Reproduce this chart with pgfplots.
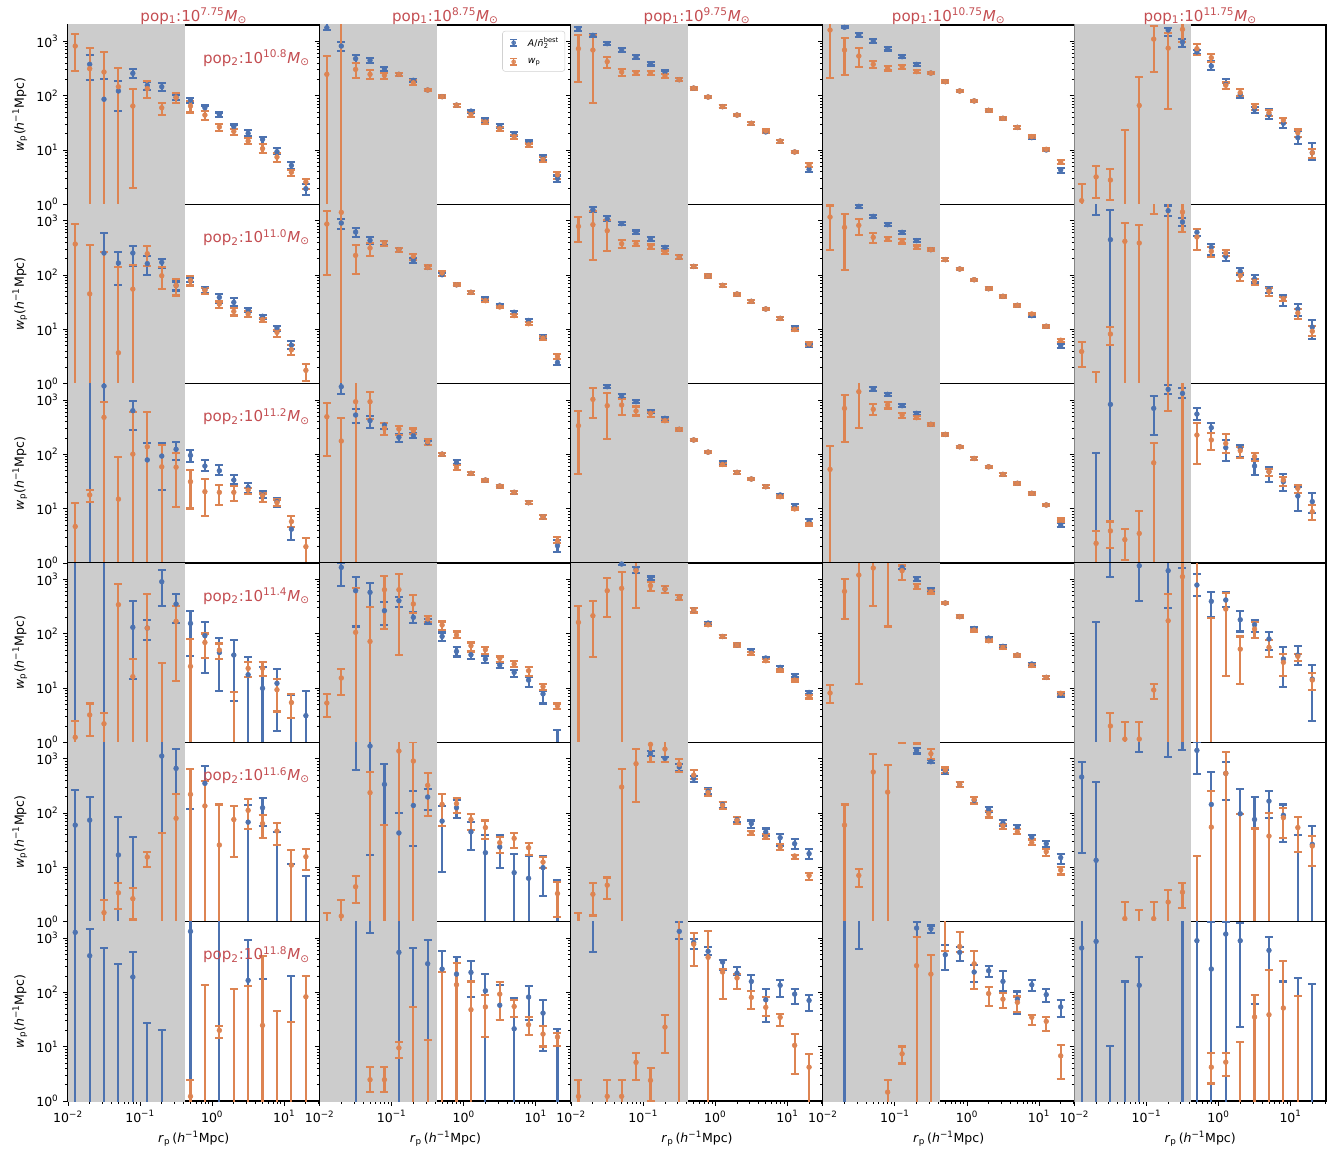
\documentclass[border=0pt]{standalone}
\usepackage{fontspec}
\setmainfont{DejaVu Sans}
\usepackage{pgfplots}
\pgfplotsset{compat=1.18}
\usepackage{pgfplotstable}
\usepgfplotslibrary{groupplots}

\definecolor{cblue}{RGB}{76,114,176}
\definecolor{corange}{RGB}{221,132,82}
\definecolor{cred}{RGB}{196,78,82}
\definecolor{cshade}{RGB}{204,204,204}

\newcommand{\tfont}{\fontsize{9.4}{11}\selectfont}
\newcommand{\bfont}{\fontsize{11.3}{13}\selectfont}
\newcommand{\Msun}{\textit{M}\textsubscript{⊙}}

\pgfplotsset{
  panel/.style={width=188.7pt, height=134.5pt, scale only axis,
    xmode=log, ymode=log, xmin=0.01, xmax=31, ymin=1, ymax=2000,
    xtick={0.01,0.1,1,10}, ytick={1,10,100,1000},
    minor xtick={0.02,0.03,0.04,0.05,0.06,0.07,0.08,0.09,0.2,0.3,0.4,0.5,0.6,0.7,0.8,0.9,2,3,4,5,6,7,8,9,20,30},
    minor ytick={2,3,4,5,6,7,8,9,20,30,40,50,60,70,80,90,200,300,400,500,600,700,800,900},
    xticklabels={}, yticklabels={},
    tick align=outside, tick pos=left,
    major tick length=3.6pt, minor tick length=2.1pt,
    tick style={black, line width=0.6pt},
    axis line style={line width=1.2pt},
    axis background/.style={fill=white},
    tick label style={font=\tfont}, label style={font=\tfont},
    title style={font=\bfont, text=cred, yshift=-9pt},
    clip=true},
  leftcol/.style={yticklabels={10\textsuperscript{0},10\textsuperscript{1},10\textsuperscript{2},10\textsuperscript{3}},
    ylabel={\textit{w}\textsubscript{p}(\textit{h}\textsuperscript{−1}Mpc)}},
  botrow/.style={xticklabels={10\textsuperscript{−2},10\textsuperscript{−1},10\textsuperscript{0},10\textsuperscript{1}},
    xlabel={\textit{r}\textsubscript{p}\,(\textit{h}\textsuperscript{−1}Mpc)}},
  bser/.style={only marks, mark=*, mark size=1.8pt, color=cblue,
    mark options={fill=cblue, draw=cblue},
    error bars/y dir=both, error bars/y explicit,
    error bars/draw error bar/.code 2 args={\draw[cblue, line width=1.6pt] ##1 -- ##2 ++(-3pt,0pt) -- ++(6pt,0pt);},
    legend image code/.code={\path (0cm,0cm) (0.5cm,0cm); \draw[cblue, line width=1.2pt] (0.2cm,-0.085cm) -- (0.2cm,0.085cm) (0.11cm,-0.085cm) -- (0.29cm,-0.085cm) (0.11cm,0.085cm) -- (0.29cm,0.085cm); \fill[cblue] (0.2cm,0cm) circle (1.5pt);}},
  oser/.style={only marks, mark=*, mark size=1.8pt, color=corange,
    mark options={fill=corange, draw=corange},
    error bars/y dir=both, error bars/y explicit,
    error bars/draw error bar/.code 2 args={\draw[corange, line width=1.6pt] ##1 -- ##2 ++(-3pt,0pt) -- ++(6pt,0pt);},
    legend image code/.code={\path (0cm,0cm) (0.5cm,0cm); \draw[corange, line width=1.2pt] (0.2cm,-0.085cm) -- (0.2cm,0.085cm) (0.11cm,-0.085cm) -- (0.29cm,-0.085cm) (0.11cm,0.085cm) -- (0.29cm,0.085cm); \fill[corange] (0.2cm,0cm) circle (1.5pt);}},
}

\newcommand{\drawpanel}[1]{%
  \addplot[fill=cshade, draw=none, forget plot] coordinates {(0.01,0.5) (0.42,0.5) (0.42,3000) (0.01,3000)} -- cycle;
  \addplot[bser] table[x=x, y=by, y error plus expr=\thisrow{bhi}-\thisrow{by}, y error minus expr=\thisrow{by}-\thisrow{blo}] {#1};
  \addplot[oser] table[x=x, y=oy, y error plus expr=\thisrow{ohi}-\thisrow{oy}, y error minus expr=\thisrow{oy}-\thisrow{olo}] {#1};
}
\newcommand{\rowlab}[1]{\node[anchor=east, text=cred, font=\bfont, inner sep=0pt] at (rel axis cs:0.962,0.815) {pop\textsubscript{2}:10\textsuperscript{#1}\Msun};}

% ---------------- data: x, blue (value, lower, upper), orange (value, lower, upper)
\pgfplotstableread{
x by blo bhi oy olo ohi
0.0126 0.5 0.4 0.6 820 284 1384
0.0200 378 194 552 314 0.1 743
0.0316 86 0.1 206 273 0.1 645
0.0501 122 51.5 186 146 0.1 323
0.0794 258 208 305 64.5 1.97 131
0.126 155 128 180 135 92 186
0.200 146 122 173 60 44 74
0.316 94 82 105 92 72 110
0.501 83 72 90 64.5 49 80
0.794 60 53 66 44 36 52
1.26 45 41 49 26.5 22.5 30
2.00 27 24.5 29.5 22 18.6 24.7
3.16 20.3 18 23 14.6 12.7 16.9
5.01 15.7 13.1 17.6 10.6 8.9 12.7
7.94 9.3 8.3 10.7 7.4 6.0 8.7
12.6 5.2 4.4 6.0 3.9 3.3 4.3
20.0 1.94 1.47 2.33 2.58 1.9 2.97
}\tAA
\pgfplotstableread{
x by blo bhi oy olo ohi
0.0126 1780 1617 2500 247 0.1 537
0.0200 820 664 972 0.6 0.1 3000
0.0316 480 405 552 305 214 405
0.0501 447 405 493 247 200 293
0.0794 314 280 342 237 206 265
0.126 247 228 265 247 228 265
0.200 192 179 205 173 155 192
0.316 127 120 134 127 120 134
0.501 96 91 101 96 91 101
0.794 67 63 71 67 63 71
1.26 52 49 55 45 40 49.7
2.00 35.6 33 38 32.8 30 35
3.16 27.7 25.7 29.7 24.7 22.5 26.5
5.01 20 18.5 21.5 17.6 16.2 19
7.94 14 13 15 12.4 11.3 13.2
12.6 7.2 6.5 8.0 6.7 6.1 7.4
20.0 3.0 2.6 3.4 3.5 2.97 3.9
}\tAB
\pgfplotstableread{
x by blo bhi oy olo ohi
0.0126 1711 1550 1862 733 178 1308
0.0200 1290 1200 1380 692 72 1290
0.0316 906 845 985 423 328 515
0.0501 693 640 750 273 230 305
0.0794 515 465 560 265 236 285
0.126 388 360 420 265 244 288
0.200 273 255 290 230 212 250
0.316 197 185 210 197 185 210
0.501 138 130 146 138 130 146
0.794 94.5 89 100 94.5 89 100
1.26 62.8 59 67 62.8 59 67
2.00 44 41.5 46.7 44 41.5 46.7
3.16 31 29 33 31 29 33
5.01 21.5 20.2 22.8 22.4 21 23.8
7.94 14.6 13.7 15.5 14.6 13.7 15.5
12.6 9.2 8.7 9.7 9.2 8.7 9.7
20.0 4.4 4.0 4.85 5.3 4.85 5.8
}\tAC
\pgfplotstableread{
x by blo bhi oy olo ohi
0.0126 3000 2500 3500 1617 211 2300
0.0200 1811 1750 1900 692 237 1168
0.0316 1308 1220 1400 537 332 765
0.0501 1015 940 1090 377 328 434
0.0794 733 680 790 318 290 350
0.126 522 485 560 342 312 370
0.200 377 355 400 277 260 296
0.316 261 248 275 261 248 275
0.501 181 172 190 181 172 190
0.794 122 116 128 122 116 128
1.26 80 76 84 80 76 84
2.00 53.7 51 56.4 53.7 51 56.4
3.16 38.3 36.4 40.2 38.3 36.4 40.2
5.01 26.1 24.8 27.4 26.1 24.8 27.4
7.94 16.9 16.0 17.8 17.6 16.7 18.5
12.6 10.0 9.5 10.5 10.3 9.8 10.8
20.0 4.3 3.8 4.7 6.0 5.5 6.5
}\tAD
\pgfplotstableread{
x by blo bhi oy olo ohi
0.0126 0.5 0.4 0.6 1.17 0.1 2.4
0.0200 0.5 0.4 0.6 3.2 1.29 5.1
0.0316 0.5 0.4 0.6 2.8 1.2 4.4
0.0501 0.5 0.4 0.6 0.6 0.1 23.4
0.0794 0.5 0.4 0.6 66 0.1 221
0.126 3000 2500 3500 1100 273 1900
0.200 1617 1254 1780 750 56 1445
0.316 972 798 1120 1663 972 2200
0.501 637 575 700 733 552 906
0.794 352 297 434 500 418 590
1.26 162 135 200 155 131 175
2.00 106 91 131 114 99 135
3.16 56 48.5 62 62.8 53.6 71
5.01 45 37.7 56 48.7 42 53.6
7.94 31 25 39.4 35.7 31 39.4
12.6 16.9 12.7 22.4 20.8 17.6 23.9
20.0 8.9 6.5 13.3 8.9 7.2 10.6
}\tAE
\pgfplotstableread{
x by blo bhi oy olo ohi
0.0126 0.5 0.4 0.6 372 0.1 868
0.0200 0.5 0.4 0.6 45 0.1 362
0.0316 254 0.1 593 0.6 0.1 261
0.0501 166 66 261 3.7 0.1 138
0.0794 254 144 337 55 0.1 155
0.126 162 101 221 247 144 337
0.200 171 134 200 97 55 138
0.316 64 52 76 64 42 86
0.501 82 74 90 79 64 95
0.794 54 47 60 52 45 57
1.26 38.8 31 45 29.3 24.6 32.6
2.00 31.4 27.3 37.7 21.4 18 24.6
3.16 23 20.6 24.6 19.2 16.9 21.4
5.01 17.4 15.5 18.6 15.1 13.5 16.1
7.94 10.6 9.5 11.7 8.8 7.2 9.8
12.6 5.1 4.4 6.0 4.2 3.4 5.1
20.0 0.5 0.4 0.6 1.76 1.1 2.33
}\tBA
\pgfplotstableread{
x by blo bhi oy olo ohi
0.0126 0.5 0.4 0.6 868 101 1485
0.0200 906 703 1074 1423 0.1 3000
0.0316 618 500 733 230 106 362
0.0501 434 380 493 314 227 388
0.0794 388 350 420 388 340 430
0.126 293 270 315 293 270 315
0.200 186 167 205 221 191 245
0.316 138 128 150 138 128 150
0.501 101 95 107 109 96 119
0.794 66 62 70 66 62 70
1.26 48 45 51 48 45 51
2.00 36.7 34.5 39 33.7 31.7 35.7
3.16 28 26.3 29.7 25.8 24.3 27.3
5.01 20.6 19.4 21.8 17.9 16.8 19
7.94 14.6 13.7 15.5 12.7 11.9 13.5
12.6 7.2 6.6 7.8 6.9 6.4 7.4
20.0 2.47 2.2 2.8 3.2 2.8 3.5
}\tBB
\pgfplotstableread{
x by blo bhi oy olo ohi
0.0126 0.5 0.4 0.6 787 399 1168
0.0200 1593 1450 1780 844 192 1485
0.0316 1088 1000 1200 654 280 1014
0.0501 880 820 950 377 314 434
0.0794 610 565 660 377 340 420
0.126 460 425 495 337 305 365
0.200 323 300 345 261 240 283
0.316 214 200 230 214 200 230
0.501 144 136 152 144 136 152
0.794 96 90 102 96 90 102
1.26 64.5 61 68 64.5 61 68
2.00 44.7 42 47.4 44.7 42 47.4
3.16 32.8 31 34.8 32.8 31 34.8
5.01 23.7 22.3 25.1 23.7 22.3 25.1
7.94 15.9 15 16.9 15.9 15 16.9
12.6 10.6 9.9 11.3 9.9 9.3 10.5
20.0 5.1 4.7 5.5 5.4 5.0 5.8
}\tBC
\pgfplotstableread{
x by blo bhi oy olo ohi
0.0126 3000 2500 3500 1168 284 1900
0.0200 3000 2500 3500 754 122 1345
0.0316 1836 1720 1950 820 552 1088
0.0501 1202 1120 1290 493 388 593
0.0794 844 790 910 460 420 505
0.126 610 570 650 417 380 455
0.200 429 400 460 328 305 350
0.316 293 278 308 293 278 308
0.501 192 182 202 192 182 202
0.794 129 122 136 129 122 136
1.26 82 78 86 82 78 86
2.00 56 53 59 56 53 59
3.16 40.5 38.5 42.5 40.5 38.5 42.5
5.01 27.7 26.3 29.1 27.7 26.3 29.1
7.94 17.9 17 18.8 19.2 18.2 20.2
12.6 11.4 10.8 12 11.4 10.8 12
20.0 5.0 4.6 5.4 6.3 5.9 6.7
}\tBD
\pgfplotstableread{
x by blo bhi oy olo ohi
0.0126 0.5 0.4 0.6 3.9 2.0 5.8
0.0200 2500 1290 3500 0.6 0.1 1.62
0.0316 447 0.1 1593 8.2 5.2 10.9
0.0501 0.5 0.4 0.6 417 0.1 906
0.0794 0.5 0.4 0.6 388 0.1 844
0.126 0.5 0.4 0.6 2500 1345 4000
0.200 1528 1237 1900 2200 0.1 4000
0.316 945 809 1120 1445 610 2500
0.501 610 520 700 500 293 703
0.794 323 237 377 273 214 328
1.26 221 180 250 254 220 290
2.00 117 101 135 97 78 108
3.16 84 73 101 76 66 84
5.01 54 47 60 50 40.5 57.5
7.94 37.7 27 43 36.7 33 40
12.6 23.7 17.9 29.7 20 15.7 23.7
20.0 11 6.6 14.6 9.2 7.6 11.4
}\tBE
\pgfplotstableread{
x by blo bhi oy olo ohi
0.0126 0.5 0.4 0.6 4.7 0.1 12.9
0.0200 3000 0.1 5000 17.9 13.5 22
0.0316 1810 0.1 3000 480 0.1 931
0.0501 0.5 0.4 0.6 15 0.1 91
0.0794 637 280 972 101 0.1 610
0.126 79 0.1 164 138 0.1 610
0.200 93 22 164 59 0.1 149
0.316 124 79 171 58 10.9 107
0.501 96 73 120 31.4 10.1 51.5
0.794 61 50 79 20.6 7.4 34.7
1.26 50 41.5 63 20 11.7 27.3
2.00 33.7 28 41.5 20 14 26
3.16 24.7 19 29.3 22 18.3 23.7
5.01 17.9 15.5 21 17.4 13.5 19
7.94 13.5 10.6 15.5 12.9 11.2 14.8
12.6 4.2 2.65 7.3 5.8 4.65 7.3
20.0 0.5 0.4 0.6 2.0 1.0 2.93
}\tCA
\pgfplotstableread{
x by blo bhi oy olo ohi
0.0126 0.5 0.4 0.6 493 93 893
0.0200 1760 1290 3000 176 0.1 473
0.0316 530 372 673 931 0.1 3000
0.0501 417 301 508 931 450 1423
0.0794 347 290 380 301 227 375
0.126 206 167 237 293 227 335
0.200 221 200 245 273 235 300
0.316 164 150 178 171 150 189
0.501 101 95 107 101 95 107
0.794 71 65 78 58 52 64
1.26 44.7 42 47.4 44.7 42 47.4
2.00 33.7 31.7 35.7 33.7 31.7 35.7
3.16 26.1 24.5 27.7 26.1 24.5 27.7
5.01 20 18.8 21.2 20 18.8 21.2
7.94 12.9 12.1 13.7 12.9 12.1 13.7
12.6 7.1 6.5 7.7 7.1 6.5 7.7
20.0 2.08 1.6 2.65 2.54 2.3 3.05
}\tCB
\pgfplotstableread{
x by blo bhi oy olo ohi
0.0126 0.5 0.4 0.6 337 43.5 637
0.0200 0.5 0.4 0.6 1029 473 1640
0.0316 1760 1650 1900 787 192 1365
0.0501 1185 1090 1290 809 530 1029
0.0794 931 870 1000 628 520 760
0.126 610 570 650 569 480 610
0.200 460 430 490 417 390 445
0.316 289 275 303 289 275 303
0.501 184 175 193 184 175 193
0.794 110 104 116 110 104 116
1.26 70 66 74 65 61 69
2.00 46.6 44 49.2 46.6 44 49.2
3.16 35.2 33.3 37.1 35.2 33.3 37.1
5.01 25.4 24 26.8 25.4 24 26.8
7.94 17.9 16.9 18.9 16.6 15.7 17.5
12.6 11.2 10.3 12.2 9.9 9.3 10.5
20.0 5.9 5.4 6.4 5.2 4.9 5.5
}\tCC
\pgfplotstableread{
x by blo bhi oy olo ohi
0.0126 0.5 0.4 0.6 53 0.1 142
0.0200 0.5 0.4 0.6 703 171 1237
0.0316 3000 2500 3500 1423 310 2200
0.0501 1593 1450 1750 673 530 832
0.0794 1272 1180 1370 809 700 925
0.126 787 740 840 530 475 575
0.200 569 540 600 473 445 500
0.316 357 340 375 357 340 375
0.501 233 222 244 233 222 244
0.794 138 131 145 138 131 145
1.26 84 80 88 84 80 88
2.00 59 56 62 59 56 62
3.16 42.8 40.7 44.9 42.8 40.7 44.9
5.01 29.3 27.8 30.8 29.3 27.8 30.8
7.94 19.2 18.2 20.2 19.2 18.2 20.2
12.6 11.7 11.1 12.3 11.7 11.1 12.3
20.0 5.0 4.6 5.4 6.2 5.8 6.6
}\tCD
\pgfplotstableread{
x by blo bhi oy olo ohi
0.0126 0.5 0.4 0.6 0.5 0.4 0.6
0.0200 0.6 0.1 104 2.3 0.1 3.94
0.0316 832 0.1 3000 3.9 1.9 5.8
0.0501 0.5 0.4 0.6 2.7 1.14 4.2
0.0794 0.5 0.4 0.6 3.5 0.1 9.2
0.126 703 227 1202 70 0.1 159
0.200 1571 1290 1900 2500 637 4000
0.316 1327 1104 1640 2500 0.1 5000
0.501 552 429 703 227 66 383
0.794 310 245 383 184 120 250
1.26 133 76 184 159 107 233
2.00 129 90 150 117 87 138
3.16 61 41.6 81 91 75 107
5.01 48 31.4 58 48 40 53
7.94 31.4 21.1 43.5 33.7 26 39
12.6 17.1 9.2 25.4 23.7 19.7 27
20.0 13.5 8.2 19.2 8.8 6.2 11.7
}\tCE
\pgfplotstableread{
x by blo bhi oy olo ohi
0.0126 3000 0.1 5000 1.24 0.1 2.5
0.0200 0.5 0.4 0.6 3.2 1.33 5.2
0.0316 3000 0.1 5000 2.2 0.1 3.5
0.0501 0.5 0.4 0.6 342 0.1 820
0.0794 131 14.6 405 16.2 0.1 34.2
0.126 127 76 178 127 0.1 537
0.200 906 328 1485 0.6 0.1 28.5
0.316 352 155 537 169 13.3 328
0.501 155 38.8 258 25 0.1 80
0.794 92 18.6 162 69 35.7 101
1.26 45 8.7 83 50 34.2 66
2.00 40.5 5.7 76 0.6 0.1 8.3
3.16 17.6 0.1 37.7 23 15.7 29.7
5.01 9.9 0.1 24 23.2 16.8 29.7
7.94 12.2 1.64 22.4 9.3 3.7 14.6
12.6 0.6 0.1 7.6 5.4 2.8 7.8
20.0 3.1 0.1 8.7 0.5 0.4 0.6
}\tDA
\pgfplotstableread{
x by blo bhi oy olo ohi
0.0126 0.5 0.4 0.6 5.3 2.9 7.8
0.0200 1663 743 2000 15.3 7.4 22.4
0.0316 618 136 1088 106 0.1 693
0.0501 577 314 844 72 0.1 314
0.0794 265 144 388 645 122 1136
0.126 405 314 480 645 40.5 1254
0.200 200 155 247 352 237 522
0.316 162 150 185 186 162 213
0.501 89 74 105 144 117 168
0.794 47.3 38 56 94.5 83 110
1.26 41 34 47 60 47 69
2.00 34.2 28.5 39 50.8 42 56
3.16 26.5 23.3 29.5 35.2 30.5 38
5.01 19.4 15.7 21.4 27.7 24 31
7.94 14 10.6 15.7 20.8 16.9 24
12.6 7.8 5.2 8.9 10.6 9.2 11.8
20.0 0.6 0.1 1.69 4.7 4.1 5.2
}\tDB
\pgfplotstableread{
x by blo bhi oy olo ohi
0.0126 0.5 0.4 0.6 162 0.1 318
0.0200 0.5 0.4 0.6 214 36.7 405
0.0316 0.5 0.4 0.6 618 200 1043
0.0501 1915 1850 2100 683 0.1 1345
0.0794 1550 1300 1700 1445 297 2200
0.126 1059 990 1130 765 618 906
0.200 664 570 750 664 570 750
0.316 466 420 510 466 420 510
0.501 273 245 300 273 245 300
0.794 157 148 166 146 137 155
1.26 89 84 94 89 84 94
2.00 62 58 66 62 58 66
3.16 48.7 46 51.4 43.5 41 46
5.01 35.7 33.7 37.7 31.8 30 33.6
7.94 24 22.6 25.4 21.4 20.1 22.7
12.6 16.9 15.9 17.9 14 13.2 14.8
20.0 8.3 7.7 8.9 6.9 6.4 7.4
}\tDC
\pgfplotstableread{
x by blo bhi oy olo ohi
0.0126 0.5 0.4 0.6 8.1 5.3 11.4
0.0200 0.5 0.4 0.6 601 186 1014
0.0316 0.5 0.4 0.6 1202 11.9 2200
0.0501 0.5 0.4 0.6 1617 328 2200
0.0794 0.5 0.4 0.6 2300 136 3000
0.126 1663 1550 1800 1445 972 1800
0.200 1014 930 1090 743 670 810
0.316 645 600 690 593 550 640
0.501 367 348 386 367 348 386
0.794 206 196 216 206 196 216
1.26 125 118 132 117 110 124
2.00 83 78 88 74 70 78
3.16 58.5 55 62 56 53 59
5.01 40.5 38 43 40.5 38 43
7.94 27.7 26 29.4 26 24.5 27.5
12.6 15.7 14.8 16.6 15.7 14.8 16.6
20.0 7.5 6.9 8.1 8.0 7.4 8.6
}\tDD
\pgfplotstableread{
x by blo bhi oy olo ohi
0.0126 0.5 0.4 0.6 0.5 0.4 0.6
0.0200 0.6 0.1 162 0.5 0.4 0.6
0.0316 2500 1120 3500 2.0 0.1 3.5
0.0501 0.5 0.4 0.6 1.15 0.1 2.4
0.0794 1785 405 2200 1.15 0.1 2.4
0.126 0.5 0.4 0.6 9.2 6.3 11.9
0.200 1445 297 2200 173 0.1 537
0.316 2300 1617 3000 1120 0.1 3000
0.501 787 487 1254 2500 0.1 5000
0.794 394 200 593 0.6 0.1 194
1.26 417 305 577 284 16.9 552
2.00 181 110 265 52 11.9 89
3.16 146 106 179 122 83 162
5.01 80 50 106 56 37.7 76
7.94 34.2 10.6 56 29.7 16.9 42.3
12.6 40.5 26.5 60 38.3 31.8 42.8
20.0 14.6 2.5 26.9 14 9.2 18.9
}\tDE
\pgfplotstableread{
x by blo bhi oy olo ohi
0.0126 60 0.1 261 0.5 0.4 0.6
0.0200 74 0.1 200 0.5 0.4 0.6
0.0316 3000 0.1 5000 1.47 0.1 2.47
0.0501 16.9 0.1 86 3.4 1.7 5.1
0.0794 0.6 0.1 36 2.65 1.1 4.2
0.126 0.5 0.4 0.6 15.5 10.1 19.4
0.200 1120 0.1 3000 0.6 0.1 42.3
0.316 664 0.1 1485 80 0.1 221
0.501 0.6 0.1 117 221 0.1 637
0.794 352 0.1 733 135 0.1 388
1.26 0.6 0.1 144 25.8 0.1 144
2.00 0.5 0.4 0.6 76 15.7 135
3.16 68 0.1 140 112 50 179
5.01 125 58 192 64 34.2 92
7.94 0.6 0.1 44.7 46.6 25.8 66
12.6 0.6 0.1 11.7 11 1.0 20.6
20.0 0.6 0.1 6.9 15.7 8.9 21.4
}\tEA
\pgfplotstableread{
x by blo bhi oy olo ohi
0.0126 0.5 0.4 0.6 0.6 0.1 1.42
0.0200 0.5 0.4 0.6 1.27 0.1 2.47
0.0316 2500 618 3500 4.4 2.2 6.9
0.0501 1711 16.6 2500 237 0.1 569
0.0794 337 0.1 787 0.6 0.1 60
0.126 43 0.1 100 1384 0.1 3000
0.200 138 24.7 254 906 0.1 2000
0.316 197 112 273 323 88 552
0.501 71 8.3 135 144 58 227
0.794 125 82 173 149 99 192
1.26 45 20.6 69 76 48.7 97
2.00 18.6 0.1 39.4 54 32.8 73
3.16 23.7 9.6 38.8 28.5 18.1 36.7
5.01 8.0 0.1 17.4 34.2 23 43.5
7.94 6.3 0.1 16.2 23 16.6 28.5
12.6 9.9 3.0 16.2 12.5 9.6 15.5
20.0 0.6 0.1 5.8 3.3 1.2 5.4
}\tEB
\pgfplotstableread{
x by blo bhi oy olo ohi
0.0126 0.5 0.4 0.6 0.6 0.1 1.42
0.0200 0.5 0.4 0.6 3.2 1.3 5.1
0.0316 0.5 0.4 0.6 4.7 2.65 6.5
0.0501 0.5 0.4 0.6 301 0.1 637
0.0794 0.5 0.4 0.6 809 159 1485
0.126 1254 1110 1400 1836 868 2100
0.200 1014 870 1090 1500 870 2200
0.316 703 601 787 787 577 972
0.501 434 377 480 500 417 610
0.794 254 227 284 237 206 273
1.26 144 125 160 138 120 160
2.00 76 67 85 73 64 85
3.16 64 54 73 43.5 39 47.5
5.01 44.7 37.7 52 36.7 33 40.5
7.94 35.2 24.7 41.5 23.7 20.6 26.5
12.6 27.3 22 32.8 16.2 14 17.1
20.0 17.9 14 22 7.1 5.8 8.0
}\tEC
\pgfplotstableread{
x by blo bhi oy olo ohi
0.0126 0.5 0.4 0.6 0.5 0.4 0.6
0.0200 0.5 0.4 0.6 60 0.1 144
0.0316 0.5 0.4 0.6 7.1 4.4 9.4
0.0501 0.5 0.4 0.6 569 0.1 1202
0.0794 0.5 0.4 0.6 243 0.1 754
0.126 0.5 0.4 0.6 2500 1950 3000
0.200 1423 1250 1560 2500 1900 3000
0.316 880 820 960 1237 972 1485
0.501 569 520 620 618 540 690
0.794 337 305 375 337 305 375
1.26 171 150 200 179 150 200
2.00 117 105 130 97 83 108
3.16 66 58 74 58 50 64
5.01 55 50 60 45 41 50
7.94 36.2 32.6 40 28.5 25.8 32.6
12.6 27.3 23.3 31 19.4 16 22
20.0 15.1 11.7 17.9 8.9 7.4 10.3
}\tED
\pgfplotstableread{
x by blo bhi oy olo ohi
0.0126 460 18.6 880 0.5 0.4 0.6
0.0200 13.5 0.1 372 0.5 0.4 0.6
0.0316 0.5 0.4 0.6 0.5 0.4 0.6
0.0501 0.5 0.4 0.6 1.14 0.1 2.3
0.0794 2500 1345 3500 0.6 0.1 1.62
0.126 0.5 0.4 0.6 1.14 0.1 2.3
0.200 2500 1088 3500 2.3 0.1 3.9
0.316 2500 1423 3500 3.5 1.8 5.1
0.501 1423 515 2000 0.6 0.1 16.2
0.794 144 0.1 569 55 0.1 254
1.26 537 171 880 537 0.1 1345
2.00 97 0.1 273 0.6 0.1 97
3.16 76 0.1 197 0.6 0.1 52
5.01 166 80 254 37.7 0.1 101
7.94 91 29.7 144 82 34.2 125
12.6 0.6 0.1 38.8 54 19.4 86
20.0 26.5 0.1 58 24.7 10.6 37.7
}\tEE
\pgfplotstableread{
x by blo bhi oy olo ohi
0.0126 1272 0.1 3000 0.5 0.4 0.6
0.0200 473 0.1 1485 0.5 0.4 0.6
0.0316 0.6 0.1 654 0.5 0.4 0.6
0.0501 0.6 0.1 337 0.5 0.4 0.6
0.0794 192 0.1 545 0.5 0.4 0.6
0.126 0.6 0.1 27.3 0.5 0.4 0.6
0.200 0.6 0.1 20.6 0.5 0.4 0.6
0.316 0.5 0.4 0.6 0.5 0.4 0.6
0.501 1327 0.1 3000 1.22 0.1 2.47
0.794 0.5 0.4 0.6 0.6 0.1 138
1.26 2500 0.1 5000 20 14.4 24.4
2.00 0.5 0.4 0.6 0.6 0.1 117
3.16 166 0.1 931 0.6 0.1 133
5.01 0.6 0.1 179 24.7 0.1 460
7.94 0.5 0.4 0.6 0.6 0.1 46
12.6 0.6 0.1 203 0.6 0.1 28
20.0 0.5 0.4 0.6 83 0.1 203
}\tFA
\pgfplotstableread{
x by blo bhi oy olo ohi
0.0126 0.5 0.4 0.6 0.5 0.4 0.6
0.0200 0.5 0.4 0.6 0.5 0.4 0.6
0.0316 2500 0.1 5000 0.5 0.4 0.6
0.0501 2500 1237 3500 2.47 1.46 4.2
0.0794 0.5 0.4 0.6 2.47 1.46 4.2
0.126 545 0.1 2500 9.5 6.2 12.2
0.200 0.6 0.1 654 0.6 0.1 54
0.316 337 0.1 931 0.6 0.1 13.5
0.501 269 0.1 569 0.6 0.1 233
0.794 217 0.1 441 138 0.1 347
1.26 233 82 372 48 0.1 159
2.00 107 0.1 217 54 14.9 91
3.16 58 31.4 138 93 31.4 153
5.01 21.4 0.1 79 55 34.7 73
7.94 82 31.4 129 25.4 16.2 34.7
12.6 41.6 8.4 73 17.1 10.1 23.7
20.0 0.6 0.1 21.4 15.1 10.4 17.9
}\tFB
\pgfplotstableread{
x by blo bhi oy olo ohi
0.0126 0.5 0.4 0.6 1.22 0.1 2.4
0.0200 2500 545 3500 0.5 0.4 0.6
0.0316 0.5 0.4 0.6 1.22 0.1 2.4
0.0501 0.5 0.4 0.6 1.22 0.1 2.4
0.0794 0.5 0.4 0.6 5.15 2.4 7.6
0.126 0.5 0.4 0.6 2.4 1.0 4.05
0.200 0.5 0.4 0.6 23 7.6 38.8
0.316 1327 959 2000 2200 0.1 4000
0.501 832 637 959 770 310 1237
0.794 569 480 683 441 0.1 1327
1.26 362 254 399 237 76 269
2.00 227 206 289 184 117 217
3.16 159 107 206 81 50 107
5.01 73 28.5 117 53 36.2 81
7.94 135 82 166 34.7 23.7 40.5
12.6 93 62 117 10.6 3.2 17.4
20.0 71 44.7 91 4.2 0.1 7.4
}\tFC
\pgfplotstableread{
x by blo bhi oy olo ohi
0.0126 0.5 0.4 0.6 0.5 0.4 0.6
0.0200 3000 0.1 5000 0.5 0.4 0.6
0.0316 2500 637 3500 0.5 0.4 0.6
0.0501 0.5 0.4 0.6 0.5 0.4 0.6
0.0794 0.5 0.4 0.6 1.46 0.1 2.47
0.126 0.5 0.4 0.6 7.4 4.9 10.1
0.200 1528 1043 2000 310 0.1 1043
0.316 1485 1237 1700 217 0.1 480
0.501 493 254 733 2200 569 4000
0.794 545 383 673 700 545 1300
1.26 237 153 323 337 117 569
2.00 250 189 301 95 57 125
3.16 159 107 243 75 51.5 98.5
5.01 75 40.5 104 65.5 42.8 84
7.94 138 107 171 34.7 24.8 38.8
12.6 91 65.5 115 29.3 19.2 34.7
20.0 54 35.2 73 6.8 2.5 10.9
}\tFD
\pgfplotstableread{
x by blo bhi oy olo ohi
0.0126 654 0.1 3000 0.5 0.4 0.6
0.0200 868 0.1 3000 0.5 0.4 0.6
0.0316 0.6 0.1 10.4 0.5 0.4 0.6
0.0501 0.6 0.1 159 0.5 0.4 0.6
0.0794 135 0.1 447 0.5 0.4 0.6
0.126 0.5 0.4 0.6 0.5 0.4 0.6
0.200 0.5 0.4 0.6 0.5 0.4 0.6
0.316 2500 0.1 5000 0.5 0.4 0.6
0.501 893 0.1 3000 0.5 0.4 0.6
0.794 269 0.1 2000 4.2 2.1 7.6
1.26 1185 0.1 2000 5.2 2.9 7.6
2.00 893 22.7 1900 0.6 0.1 12
3.16 0.6 0.1 62 35.2 0.1 88
5.01 593 261 1029 38.8 0.1 261
7.94 0.6 0.1 159 51.5 0.1 372
12.6 0.6 0.1 184 0.6 0.1 87
20.0 0.6 0.1 142 0.5 0.4 0.6
}\tFE

\begin{document}
\begin{tikzpicture}
\begin{groupplot}[group style={group size=5 by 6, horizontal sep=0pt, vertical sep=0pt}, panel]
% row 1
\nextgroupplot[leftcol, title={pop\textsubscript{1}:10\textsuperscript{7.75}\Msun}]
\drawpanel{\tAA}\rowlab{10.8}
\nextgroupplot[title={pop\textsubscript{1}:10\textsuperscript{8.75}\Msun},
  legend style={at={(0.976,0.967)}, anchor=north east, draw=black!18, rounded corners=2pt, fill=white, fill opacity=0.85, text opacity=1, font=\fontsize{7}{8}\selectfont, inner xsep=2.5pt, inner ysep=2.5pt, row sep=3.5pt, legend cell align=left}]
\drawpanel{\tAB}
\addlegendentry{\textit{A}/\textit{\=n}\rlap{\textsubscript{2}}\textsuperscript{best}}
\addlegendentry{\textit{w}\textsubscript{p}}
\nextgroupplot[title={pop\textsubscript{1}:10\textsuperscript{9.75}\Msun}]
\drawpanel{\tAC}
\nextgroupplot[title={pop\textsubscript{1}:10\textsuperscript{10.75}\Msun}]
\drawpanel{\tAD}
\nextgroupplot[title={pop\textsubscript{1}:10\textsuperscript{11.75}\Msun}]
\drawpanel{\tAE}
% row 2
\nextgroupplot[leftcol]
\drawpanel{\tBA}\rowlab{11.0}
\nextgroupplot
\drawpanel{\tBB}
\nextgroupplot
\drawpanel{\tBC}
\nextgroupplot
\drawpanel{\tBD}
\nextgroupplot
\drawpanel{\tBE}
% row 3
\nextgroupplot[leftcol]
\drawpanel{\tCA}\rowlab{11.2}
\nextgroupplot
\drawpanel{\tCB}
\nextgroupplot
\drawpanel{\tCC}
\nextgroupplot
\drawpanel{\tCD}
\nextgroupplot
\drawpanel{\tCE}
% row 4
\nextgroupplot[leftcol]
\drawpanel{\tDA}\rowlab{11.4}
\nextgroupplot
\drawpanel{\tDB}
\nextgroupplot
\drawpanel{\tDC}
\nextgroupplot
\drawpanel{\tDD}
\nextgroupplot
\drawpanel{\tDE}
% row 5
\nextgroupplot[leftcol]
\drawpanel{\tEA}\rowlab{11.6}
\nextgroupplot
\drawpanel{\tEB}
\nextgroupplot
\drawpanel{\tEC}
\nextgroupplot
\drawpanel{\tED}
\nextgroupplot
\drawpanel{\tEE}
% row 6
\nextgroupplot[leftcol, botrow]
\drawpanel{\tFA}\rowlab{11.8}
\nextgroupplot[botrow]
\drawpanel{\tFB}
\nextgroupplot[botrow]
\drawpanel{\tFC}
\nextgroupplot[botrow]
\drawpanel{\tFD}
\nextgroupplot[botrow]
\drawpanel{\tFE}
\end{groupplot}
\pgfresetboundingbox
\path[use as bounding box] ([xshift=-51pt,yshift=18.75pt]group c1r1.north west) rectangle ([xshift=12pt,yshift=-41.25pt]group c5r6.south east);
\end{tikzpicture}
\end{document}
